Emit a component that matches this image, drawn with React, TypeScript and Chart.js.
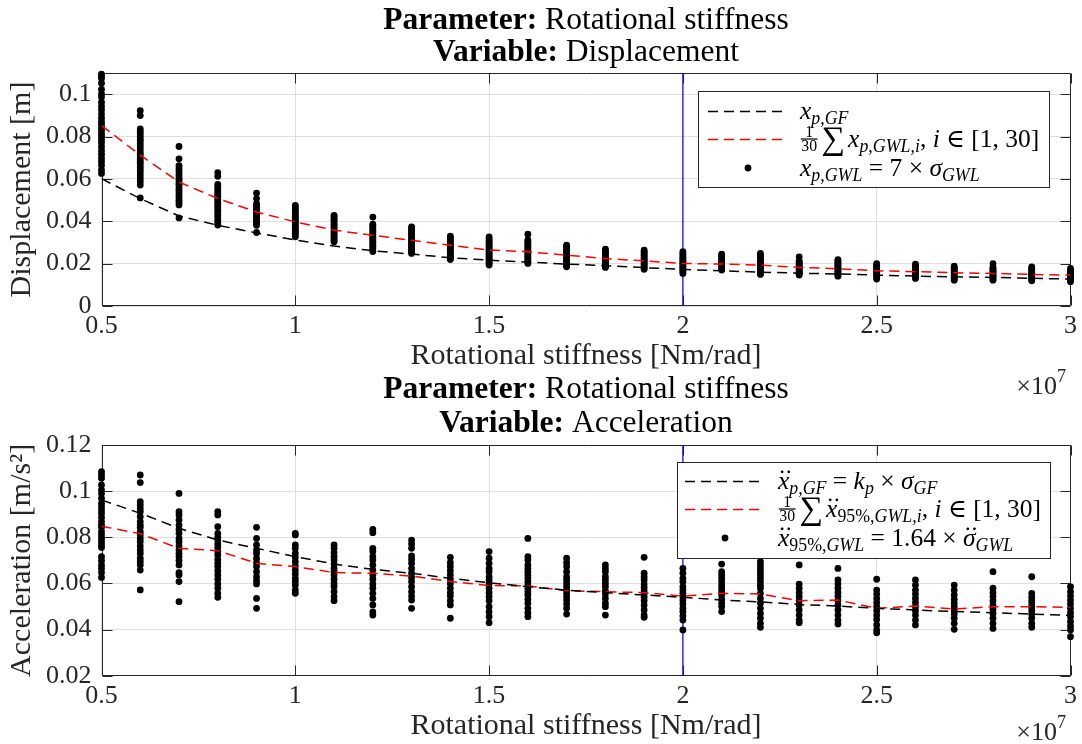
import React, { useEffect, useRef } from 'react';
import { Chart, registerables } from 'chart.js';

Chart.register(...registerables);

const FONT = '"Liberation Serif", "DejaVu Serif", serif';
const AXIS_COLOR = '#262626';
const GRID_COLOR = '#dfdfdf';

// ---------- data ----------
const stiffness = [5e6, 6e6, 7e6, 8e6, 9e6, 1e7, 1.1e7, 1.2e7, 1.3e7, 1.4e7, 1.5e7, 1.6e7, 1.7e7, 1.8e7, 1.9e7, 2e7, 2.1e7, 2.2e7, 2.3e7, 2.4e7, 2.5e7, 2.6e7, 2.7e7, 2.8e7, 2.9e7, 3e7];
const xTickValues = [5e6, 1e7, 1.5e7, 2e7, 2.5e7, 3e7];
const xTickLabels = ['0.5', '1', '1.5', '2', '2.5', '3'];
const markerStiffness = 2e7;

const dispTickValues = [0, 0.02, 0.04, 0.06, 0.08, 0.1];
const dispTickLabels = ['0', '0.02', '0.04', '0.06', '0.08', '0.1'];
const accTickValues = [0.02, 0.04, 0.06, 0.08, 0.1, 0.12];
const accTickLabels = ['0.02', '0.04', '0.06', '0.08', '0.1', '0.12'];

const dispGF = [0.0601, 0.0507, 0.0425, 0.0381, 0.0345, 0.0312, 0.0283, 0.0261, 0.0245, 0.0228, 0.0216, 0.0207, 0.0198, 0.019, 0.0181, 0.0173, 0.0166, 0.016, 0.0155, 0.0151, 0.0146, 0.0141, 0.0138, 0.0135, 0.0131, 0.0127];
const dispMean = [0.0852, 0.0712, 0.0585, 0.0507, 0.0444, 0.0397, 0.0358, 0.0334, 0.031, 0.0287, 0.0264, 0.0256, 0.024, 0.0224, 0.0213, 0.0201, 0.0198, 0.0193, 0.0182, 0.0176, 0.0166, 0.0162, 0.0157, 0.0154, 0.0149, 0.0146];
const dispSamples: number[][] = [
  [0.1095, 0.1086, 0.1074, 0.1052, 0.1023, 0.1001, 0.0987, 0.0962, 0.0944, 0.0927, 0.0906, 0.0888, 0.0871, 0.0857, 0.0842, 0.0828, 0.0813, 0.0801, 0.0786, 0.0771, 0.0752, 0.0733, 0.0716, 0.0698, 0.0681, 0.0664, 0.0642, 0.0626],
  [0.0922, 0.0899, 0.0836, 0.0824, 0.0813, 0.0801, 0.0789, 0.0779, 0.0766, 0.0753, 0.0741, 0.0727, 0.0716, 0.0703, 0.0691, 0.0679, 0.0667, 0.0654, 0.0641, 0.0628, 0.0614, 0.06, 0.0586, 0.0571, 0.051],
  [0.0753, 0.0695, 0.0663, 0.0651, 0.0641, 0.0628, 0.0616, 0.0604, 0.0596, 0.0585, 0.0575, 0.0566, 0.0554, 0.0544, 0.0533, 0.0522, 0.0511, 0.0499, 0.0489, 0.0477, 0.0416],
  [0.0629, 0.0612, 0.0574, 0.0561, 0.0549, 0.0537, 0.0526, 0.0517, 0.0504, 0.0496, 0.0484, 0.0473, 0.0463, 0.0451, 0.0441, 0.0428, 0.0417, 0.0404, 0.0393, 0.0382],
  [0.0533, 0.0507, 0.0483, 0.0475, 0.0467, 0.0458, 0.0451, 0.0442, 0.0436, 0.0427, 0.0421, 0.0413, 0.0404, 0.0395, 0.0389, 0.0381, 0.0347],
  [0.0475, 0.0467, 0.0458, 0.0449, 0.0441, 0.0431, 0.0423, 0.0416, 0.0407, 0.0399, 0.0393, 0.0384, 0.0375, 0.0367, 0.0359, 0.0351, 0.0343, 0.0335, 0.0327],
  [0.0428, 0.0421, 0.0413, 0.0405, 0.0397, 0.0387, 0.0381, 0.0372, 0.0363, 0.0355, 0.0347, 0.0339, 0.0331, 0.0323, 0.0316, 0.0309, 0.0303],
  [0.042, 0.0386, 0.0379, 0.0371, 0.0362, 0.0353, 0.0345, 0.0337, 0.0329, 0.0322, 0.0315, 0.0306, 0.0297, 0.0289, 0.0282, 0.0274, 0.0265, 0.0257],
  [0.0374, 0.0367, 0.0358, 0.0349, 0.0342, 0.0333, 0.0326, 0.0317, 0.0309, 0.0301, 0.0293, 0.0286, 0.0277, 0.027, 0.0261, 0.0254, 0.0248],
  [0.033, 0.0324, 0.0316, 0.0308, 0.0302, 0.0294, 0.0287, 0.0282, 0.0273, 0.0266, 0.0259, 0.0252, 0.0246, 0.0238, 0.0232, 0.0225, 0.0219],
  [0.0326, 0.0317, 0.031, 0.0301, 0.0294, 0.0285, 0.0279, 0.0272, 0.0263, 0.0257, 0.0249, 0.0243, 0.0234, 0.0228, 0.0221, 0.0214, 0.0206, 0.0199, 0.0193],
  [0.0339, 0.0312, 0.0305, 0.0296, 0.0289, 0.028, 0.0274, 0.0265, 0.0259, 0.0251, 0.0246, 0.0237, 0.0231, 0.0223, 0.0217, 0.0209, 0.0201],
  [0.0287, 0.0281, 0.0272, 0.0266, 0.0258, 0.025, 0.0245, 0.0236, 0.023, 0.0222, 0.0216, 0.0208, 0.0203, 0.0195, 0.0189, 0.0185],
  [0.0268, 0.0261, 0.0256, 0.0248, 0.0241, 0.0236, 0.0228, 0.0223, 0.0215, 0.0211, 0.0203, 0.0198, 0.019, 0.0186, 0.0182],
  [0.0264, 0.0256, 0.0251, 0.0242, 0.0237, 0.0228, 0.0223, 0.0214, 0.0209, 0.02, 0.0195, 0.0186, 0.0181, 0.0173],
  [0.0256, 0.0247, 0.0241, 0.0231, 0.0225, 0.0216, 0.0211, 0.0202, 0.0197, 0.0188, 0.0183, 0.0174, 0.0169, 0.016, 0.0154],
  [0.0245, 0.0237, 0.0232, 0.0223, 0.0218, 0.0209, 0.0205, 0.0197, 0.0193, 0.0185, 0.0181, 0.0174, 0.017],
  [0.0248, 0.0239, 0.0233, 0.0224, 0.0219, 0.021, 0.0205, 0.0196, 0.0191, 0.0182, 0.0177, 0.0168, 0.0163, 0.0154, 0.0149],
  [0.0232, 0.0212, 0.0207, 0.0199, 0.0195, 0.0187, 0.0183, 0.0175, 0.0171, 0.0163, 0.0159, 0.0151, 0.0146],
  [0.0219, 0.0212, 0.0208, 0.02, 0.0196, 0.0188, 0.0184, 0.0176, 0.0172, 0.0164, 0.016, 0.0152, 0.0148, 0.0141],
  [0.02, 0.0193, 0.0189, 0.0181, 0.0177, 0.0169, 0.0165, 0.0157, 0.0153, 0.0145, 0.0141, 0.0133, 0.0127],
  [0.0197, 0.019, 0.0186, 0.0178, 0.0174, 0.0166, 0.0162, 0.0154, 0.015, 0.0142, 0.0137, 0.013],
  [0.0188, 0.0181, 0.0177, 0.0169, 0.0165, 0.0157, 0.0153, 0.0145, 0.0141, 0.0133, 0.0128, 0.0122],
  [0.02, 0.0182, 0.0177, 0.0169, 0.0165, 0.0157, 0.0153, 0.0145, 0.0141, 0.0133, 0.0128, 0.0122],
  [0.0185, 0.0178, 0.0174, 0.0166, 0.0162, 0.0154, 0.015, 0.0142, 0.0138, 0.013, 0.0125, 0.0119],
  [0.0177, 0.017, 0.0166, 0.0158, 0.0154, 0.0146, 0.0142, 0.0134, 0.0129, 0.0122, 0.0115],
];

const accGF = [0.0962, 0.0904, 0.0839, 0.0788, 0.0752, 0.0716, 0.0684, 0.0661, 0.0644, 0.0622, 0.0603, 0.0586, 0.0571, 0.056, 0.055, 0.054, 0.0528, 0.052, 0.0509, 0.0502, 0.0492, 0.0485, 0.0478, 0.0473, 0.0467, 0.0461];
const accMean = [0.0848, 0.0815, 0.0752, 0.0742, 0.0687, 0.0673, 0.0647, 0.0644, 0.0632, 0.0608, 0.0591, 0.0589, 0.0568, 0.0564, 0.056, 0.0545, 0.0557, 0.0554, 0.0525, 0.0528, 0.0492, 0.0502, 0.0489, 0.0499, 0.0499, 0.0496];
const accSamples: number[][] = [
  [0.1084, 0.107, 0.1056, 0.1027, 0.1005, 0.099, 0.0969, 0.0947, 0.0933, 0.0918, 0.0904, 0.0886, 0.0868, 0.0853, 0.0843, 0.0824, 0.081, 0.0795, 0.0781, 0.0767, 0.0756, 0.0716, 0.0699, 0.068, 0.0665, 0.0647, 0.0626],
  [0.107, 0.1037, 0.0954, 0.094, 0.0925, 0.0911, 0.0889, 0.0868, 0.0853, 0.0843, 0.0824, 0.081, 0.0795, 0.0781, 0.0762, 0.0745, 0.073, 0.0709, 0.0694, 0.068, 0.0658, 0.0572],
  [0.099, 0.0911, 0.0897, 0.0875, 0.0853, 0.0834, 0.0817, 0.0795, 0.0781, 0.0762, 0.0745, 0.073, 0.0716, 0.0699, 0.068, 0.0647, 0.0637, 0.0608, 0.0521],
  [0.0911, 0.0897, 0.0846, 0.0817, 0.08, 0.0788, 0.0771, 0.0756, 0.0738, 0.0723, 0.0704, 0.0687, 0.0673, 0.0655, 0.0637, 0.0618, 0.0598, 0.0579, 0.0557, 0.054],
  [0.0843, 0.0795, 0.0767, 0.0745, 0.073, 0.0709, 0.069, 0.0673, 0.0651, 0.0629, 0.0612, 0.0598, 0.0535, 0.0492],
  [0.0817, 0.081, 0.0767, 0.0752, 0.073, 0.0713, 0.0694, 0.0675, 0.0658, 0.0641, 0.0622, 0.0608, 0.0593, 0.0572, 0.0557],
  [0.0767, 0.0752, 0.0733, 0.0716, 0.0701, 0.0684, 0.0665, 0.0651, 0.0637, 0.0618, 0.06, 0.0586, 0.0564, 0.0543, 0.0525],
  [0.0834, 0.082, 0.0752, 0.0738, 0.0716, 0.0701, 0.068, 0.0658, 0.0637, 0.0618, 0.0598, 0.0579, 0.0557, 0.0535, 0.0507, 0.0477, 0.0463],
  [0.0788, 0.0771, 0.0752, 0.0719, 0.0704, 0.0687, 0.0665, 0.0644, 0.0626, 0.0608, 0.0586, 0.0564, 0.0545, 0.0528, 0.0492],
  [0.0713, 0.069, 0.0673, 0.0655, 0.0637, 0.0618, 0.06, 0.0579, 0.056, 0.0545, 0.0525, 0.0507, 0.0449],
  [0.0738, 0.0709, 0.0687, 0.0665, 0.0651, 0.0629, 0.0615, 0.0598, 0.0579, 0.056, 0.0543, 0.0525, 0.0499, 0.0477, 0.0456, 0.043],
  [0.0795, 0.0716, 0.0702, 0.068, 0.0665, 0.0651, 0.0636, 0.0622, 0.0608, 0.0593, 0.0579, 0.0564, 0.055, 0.0531, 0.0514, 0.0492, 0.0473, 0.0456],
  [0.0709, 0.069, 0.0673, 0.0651, 0.0629, 0.0615, 0.06, 0.0586, 0.0571, 0.0557, 0.0543, 0.0528, 0.0511, 0.0492, 0.0467],
  [0.068, 0.0665, 0.0651, 0.0629, 0.0615, 0.06, 0.0586, 0.0568, 0.0554, 0.0535, 0.0514, 0.0499, 0.0463],
  [0.0713, 0.0644, 0.0629, 0.0615, 0.0597, 0.0583, 0.0568, 0.0554, 0.054, 0.0525, 0.0506, 0.0485, 0.0463, 0.0453],
  [0.0665, 0.0644, 0.0622, 0.0608, 0.0586, 0.0571, 0.0557, 0.0543, 0.0528, 0.0511, 0.0492, 0.0478, 0.0459, 0.0441, 0.0398],
  [0.0684, 0.0651, 0.0636, 0.0622, 0.0608, 0.0593, 0.0579, 0.0564, 0.055, 0.0531, 0.0514, 0.0499, 0.0478],
  [0.0694, 0.068, 0.0665, 0.0651, 0.0636, 0.0622, 0.0608, 0.0593, 0.0579, 0.0557, 0.0535, 0.0514, 0.0492, 0.047, 0.0449, 0.0427, 0.041],
  [0.068, 0.0597, 0.0579, 0.056, 0.0543, 0.0525, 0.0506, 0.0485, 0.0463, 0.0441, 0.043],
  [0.0665, 0.0615, 0.0597, 0.0579, 0.056, 0.0543, 0.0525, 0.0506, 0.0485, 0.0463, 0.0441, 0.0424],
  [0.0618, 0.0571, 0.0554, 0.0535, 0.0517, 0.0499, 0.0482, 0.0463, 0.0444, 0.042, 0.0398, 0.0386],
  [0.0615, 0.0593, 0.0571, 0.0554, 0.0535, 0.0517, 0.0499, 0.0482, 0.0463, 0.0441, 0.042],
  [0.0593, 0.0571, 0.055, 0.0531, 0.0514, 0.0499, 0.0482, 0.0467, 0.0449, 0.0427, 0.0401],
  [0.0651, 0.0579, 0.056, 0.0543, 0.0525, 0.0506, 0.0488, 0.047, 0.0449, 0.0427, 0.0405],
  [0.0629, 0.0557, 0.054, 0.0525, 0.0511, 0.0497, 0.0482, 0.0467, 0.0449, 0.0427, 0.041],
  [0.0586, 0.0564, 0.0545, 0.0528, 0.0511, 0.0492, 0.0473, 0.0456, 0.0434, 0.0415, 0.0398, 0.0369],
];

// ---------- math text ----------
type Tok = { t?: string; it?: boolean; b?: boolean; sub?: boolean; sup?: boolean; dd?: boolean; frac?: [string, string]; sum?: boolean; sp?: number };

function fontStr(size: number, it?: boolean, b?: boolean) {
  return `${it ? 'italic ' : ''}${b ? 'bold ' : ''}${size}px ${FONT}`;
}

function runMath(ctx: CanvasRenderingContext2D, toks: Tok[], x: number, y: number, size: number, draw: boolean): number {
  let cx = x;
  ctx.textBaseline = 'alphabetic';
  ctx.textAlign = 'left';
  for (const tk of toks) {
    if (tk.sp) { cx += tk.sp * size; continue; }
    if (tk.frac) {
      const fs = size * 0.62;
      ctx.font = fontStr(fs);
      const wn = ctx.measureText(tk.frac[0]).width;
      const wd = ctx.measureText(tk.frac[1]).width;
      const w = Math.max(wn, wd) + 0.1 * size;
      if (draw) {
        const bar = y - 0.3 * size;
        ctx.fillText(tk.frac[0], cx + (w - wn) / 2, bar - 0.07 * size);
        ctx.fillText(tk.frac[1], cx + (w - wd) / 2, bar + 0.08 * size + fs * 0.66);
        ctx.fillRect(cx + 0.03 * size, bar - 0.6, w - 0.06 * size, 1.2);
      }
      cx += w + 0.12 * size;
      continue;
    }
    if (tk.sum) {
      const fs = size * 1.3;
      ctx.font = fontStr(fs);
      if (draw) ctx.fillText('\u2211', cx, y + 0.1 * size);
      cx += ctx.measureText('\u2211').width + 0.12 * size;
      continue;
    }
    const t = tk.t || '';
    const fs = tk.sub || tk.sup ? size * 0.7 : size;
    const dy = tk.sub ? 0.2 * size : tk.sup ? -0.45 * size : 0;
    ctx.font = fontStr(fs, tk.it, tk.b);
    const w = ctx.measureText(t).width;
    if (draw) {
      ctx.fillText(t, cx, y + dy);
      if (tk.dd) {
        const mx = cx + w / 2 + (tk.it ? 0.07 * fs : 0);
        const my = y + dy - 0.66 * fs;
        const r = 0.055 * fs;
        ctx.beginPath();
        ctx.arc(mx - 0.13 * fs, my, r, 0, Math.PI * 2);
        ctx.closePath();
        ctx.moveTo(mx + 0.13 * fs + r, my);
        ctx.arc(mx + 0.13 * fs, my, r, 0, Math.PI * 2);
        ctx.fill();
      }
    }
    cx += w;
  }
  return cx - x;
}

// ---------- panel specs ----------
type LegendEntry = { kind: 'line' | 'dot'; color: string; toks: Tok[] };
type Panel = {
  top: number; height: number; padTop: number; plotBottom: number;
  yMin: number; yMax: number; yTickValues: number[]; yTickLabels: string[];
  yTitle: string; variable: string;
  gf: number[]; mean: number[]; samples: number[][];
  titleY: [number, number];
  xTitlePadBottom: number;
  expoY: number;
  legend: { x: number; y: number; w: number; h: number; lineX: [number, number]; textX: number; rows: number[]; entries: LegendEntry[] };
};

const sub = (t: string, it = true): Tok => ({ t, it, sub: true });

const topPanel: Panel = {
  top: 0, height: 400, padTop: 73, plotBottom: 306,
  yMin: 0, yMax: 0.11, yTickValues: dispTickValues, yTickLabels: dispTickLabels,
  yTitle: 'Displacement [m]', variable: 'Displacement',
  gf: dispGF, mean: dispMean, samples: dispSamples,
  titleY: [18, 50], xTitlePadBottom: 26, expoY: 394,
  legend: {
    x: 698, y: 91, w: 351, h: 96, lineX: [708, 788], textX: 800, rows: [111, 139, 168],
    entries: [
      { kind: 'line', color: '#000000', toks: [{ t: 'x', it: true }, sub('p,GF')] },
      { kind: 'line', color: '#ff0000', toks: [{ frac: ['1', '30'] }, { sum: true }, { t: 'x', it: true }, sub('p,GWL,i'), { t: ', ' }, { t: 'i', it: true }, { t: ' \u2208 [1, 30]' }] },
      { kind: 'dot', color: '#000000', toks: [{ t: 'x', it: true }, sub('p,GWL'), { t: ' = 7 \u00d7 ' }, { t: '\u03c3', it: true }, sub('GWL')] },
    ],
  },
};

const bottomPanel: Panel = {
  top: 371, height: 373, padTop: 74, plotBottom: 304.7,
  yMin: 0.02, yMax: 0.12, yTickValues: accTickValues, yTickLabels: accTickLabels,
  yTitle: 'Acceleration [m/s\u00b2]', variable: 'Acceleration',
  gf: accGF, mean: accMean, samples: accSamples,
  titleY: [16, 50], xTitlePadBottom: 0, expoY: 369,
  legend: {
    x: 677, y: 91, w: 373, h: 96, lineX: [685, 765], textX: 778, rows: [110, 138, 167],
    entries: [
      { kind: 'line', color: '#000000', toks: [{ t: 'x', it: true, dd: true }, sub('p,GF'), { t: ' = ' }, { t: 'k', it: true }, sub('p'), { t: ' \u00d7 ' }, { t: '\u03c3', it: true }, sub('GF')] },
      { kind: 'line', color: '#ff0000', toks: [{ frac: ['1', '30'] }, { sum: true }, { t: 'x', it: true, dd: true }, sub('95%,', false), sub('GWL,i'), { t: ', ' }, { t: 'i', it: true }, { t: ' \u2208 [1, 30]' }] },
      { kind: 'dot', color: '#000000', toks: [{ t: 'x', it: true, dd: true }, sub('95%,', false), sub('GWL'), { t: ' = 1.64 \u00d7 ' }, { t: '\u03c3', it: true, dd: true }, sub('GWL')] },
    ],
  },
};

const TITLE_SIZE = 31.5;
const LEGEND_SIZE = 25.5;
const TICK_SIZE = 26;
const LABEL_SIZE = 30;
const PLOT_LEFT = 101.5;
const PLOT_RIGHT = 1073.17;

function decorPlugin(p: Panel) {
  return {
    id: 'matlabDecor',
    beforeDatasetsDraw(chart: any) {
      const { ctx, chartArea: a, scales } = chart;
      ctx.save();
      ctx.strokeStyle = AXIS_COLOR;
      ctx.lineWidth = 1;
      const L = Math.round(a.left) + 0.5, R = Math.round(a.right) - 0.5;
      const T = Math.round(a.top) + 0.5, B = Math.round(a.bottom) - 0.5;
      ctx.beginPath();
      ctx.rect(L, T, R - L, B - T);
      const tl = 10;
      for (const tk of scales.x.ticks) {
        const px = Math.round(scales.x.getPixelForValue(tk.value)) + 0.5;
        ctx.moveTo(px, B); ctx.lineTo(px, B - tl);
        ctx.moveTo(px, T); ctx.lineTo(px, T + tl);
      }
      for (const tk of scales.y.ticks) {
        const py = Math.round(scales.y.getPixelForValue(tk.value)) + 0.5;
        ctx.moveTo(L, py); ctx.lineTo(L + tl, py);
        ctx.moveTo(R, py); ctx.lineTo(R - tl, py);
      }
      ctx.stroke();
      ctx.restore();
    },
    afterDraw(chart: any) {
      const { ctx, chartArea: a } = chart;
      ctx.save();
      ctx.fillStyle = '#000';
      const cx = (a.left + a.right) / 2;
      const line1: Tok[] = [{ t: 'Parameter:', b: true }, { t: ' Rotational stiffness' }];
      const line2: Tok[] = [{ t: 'Variable:', b: true }, { t: ' ' + p.variable }];
      [line1, line2].forEach((toks, i) => {
        const w = runMath(ctx, toks, 0, 0, TITLE_SIZE, false);
        runMath(ctx, toks, cx - w / 2, p.titleY[i] + TITLE_SIZE * 0.34, TITLE_SIZE, true);
      });
      // exponent label
      ctx.fillStyle = AXIS_COLOR;
      const expo: Tok[] = [{ t: '\u00d710' }, { t: '7', sup: true }];
      const ew = runMath(ctx, expo, 0, 0, TICK_SIZE, false);
      runMath(ctx, expo, 1066 - ew, p.expoY, TICK_SIZE, true);
      // legend
      const lg = p.legend;
      ctx.fillStyle = '#ffffff';
      ctx.fillRect(lg.x, lg.y, lg.w, lg.h);
      ctx.strokeStyle = AXIS_COLOR;
      ctx.lineWidth = 1;
      ctx.strokeRect(lg.x + 0.5, lg.y + 0.5, lg.w, lg.h);
      lg.entries.forEach((e, i) => {
        const ry = lg.rows[i];
        if (e.kind === 'line') {
          ctx.save();
          ctx.strokeStyle = e.color;
          ctx.lineWidth = 1.5;
          ctx.setLineDash([10, 6]);
          ctx.beginPath();
          ctx.moveTo(lg.lineX[0], ry + 0.5);
          ctx.lineTo(lg.lineX[1], ry + 0.5);
          ctx.stroke();
          ctx.restore();
        } else {
          ctx.fillStyle = e.color;
          ctx.beginPath();
          ctx.arc((lg.lineX[0] + lg.lineX[1]) / 2, ry, 3.4, 0, Math.PI * 2);
          ctx.fill();
        }
        ctx.fillStyle = '#000';
        runMath(ctx, e.toks, lg.textX, ry + LEGEND_SIZE * 0.3, LEGEND_SIZE, true);
      });
      ctx.restore();
    },
  };
}

function buildConfig(p: Panel): any {
  const points: { x: number; y: number }[] = [];
  p.samples.forEach((col, i) => col.forEach((v) => points.push({ x: stiffness[i], y: v })));
  const plotHeight = p.plotBottom - p.padTop;
  return {
    type: 'scatter',
    data: {
      datasets: [
        {
          type: 'line', label: 'GF', data: stiffness.map((k, i) => ({ x: k, y: p.gf[i] })),
          borderColor: '#000000', borderWidth: 1.5, borderDash: [10, 6], pointRadius: 0, showLine: true, fill: false, order: 1, tension: 0,
        },
        {
          type: 'line', label: 'Mean', data: stiffness.map((k, i) => ({ x: k, y: p.mean[i] })),
          borderColor: '#ff0000', borderWidth: 1.5, borderDash: [10, 6], pointRadius: 0, showLine: true, fill: false, order: 2, tension: 0,
        },
        {
          type: 'scatter', label: 'GWL', data: points, pointRadius: 3.4, pointBackgroundColor: '#000000',
          pointBorderWidth: 0, borderColor: '#000000', backgroundColor: '#000000', order: 3, clip: false,
        },
        {
          type: 'line', label: 'marker', data: [{ x: markerStiffness, y: p.yMin }, { x: markerStiffness, y: p.yMax }],
          borderColor: '#0000ff', borderWidth: 1.2, pointRadius: 0, showLine: true, fill: false, order: 4,
        },
      ],
    },
    options: {
      responsive: false,
      animation: false,
      events: [],
      layout: { padding: { top: p.padTop, right: 1082 - PLOT_RIGHT, left: 0, bottom: 0 } },
      plugins: { legend: { display: false }, tooltip: { enabled: false }, title: { display: false } },
      scales: {
        x: {
          type: 'linear', min: stiffness[0], max: stiffness[stiffness.length - 1],
          afterBuildTicks: (s: any) => { s.ticks = xTickValues.map((v) => ({ value: v })); },
          ticks: {
            callback: (v: number) => { const i = xTickValues.indexOf(v); return i >= 0 ? xTickLabels[i] : ''; },
            font: { family: FONT, size: TICK_SIZE }, color: AXIS_COLOR, padding: 5, maxRotation: 0, autoSkip: false,
          },
          grid: { color: GRID_COLOR, drawTicks: false, lineWidth: 1 },
          border: { display: false },
          title: { display: true, text: 'Rotational stiffness [Nm/rad]', font: { family: FONT, size: LABEL_SIZE }, color: AXIS_COLOR, padding: { top: 0, bottom: p.xTitlePadBottom } },
          afterFit: (s: any) => { s.height = p.height - p.padTop - plotHeight; },
        },
        y: {
          type: 'linear', min: p.yMin, max: p.yMax,
          afterBuildTicks: (s: any) => { s.ticks = p.yTickValues.map((v) => ({ value: v })); },
          ticks: {
            callback: (v: number) => { const i = p.yTickValues.findIndex((t) => Math.abs(t - v) < 1e-9); return i >= 0 ? p.yTickLabels[i] : ''; },
            font: { family: FONT, size: TICK_SIZE }, color: AXIS_COLOR, padding: 10,
          },
          grid: { color: GRID_COLOR, drawTicks: false, lineWidth: 1 },
          border: { display: false },
          title: { display: true, text: p.yTitle, font: { family: FONT, size: LABEL_SIZE }, color: AXIS_COLOR, padding: { top: 4, bottom: 0 } },
          afterFit: (s: any) => { s.width = PLOT_LEFT; },
        },
      },
    },
    plugins: [decorPlugin(p)],
  };
}

function PanelChart({ panel }: { panel: Panel }) {
  const ref = useRef<HTMLCanvasElement | null>(null);
  useEffect(() => {
    if (!ref.current) return;
    const chart = new Chart(ref.current, buildConfig(panel));
    return () => chart.destroy();
  }, [panel]);
  return (
    <canvas
      ref={ref}
      width={1082}
      height={panel.height}
      style={{ position: 'absolute', left: 0, top: panel.top, width: 1082, height: panel.height, display: 'block' }}
    />
  );
}

export default function App() {
  return (
    <div style={{ position: 'absolute', left: 0, top: 0, width: 1082, height: 744, background: '#ffffff', overflow: 'hidden' }}>
      <PanelChart panel={topPanel} />
      <PanelChart panel={bottomPanel} />
    </div>
  );
}
